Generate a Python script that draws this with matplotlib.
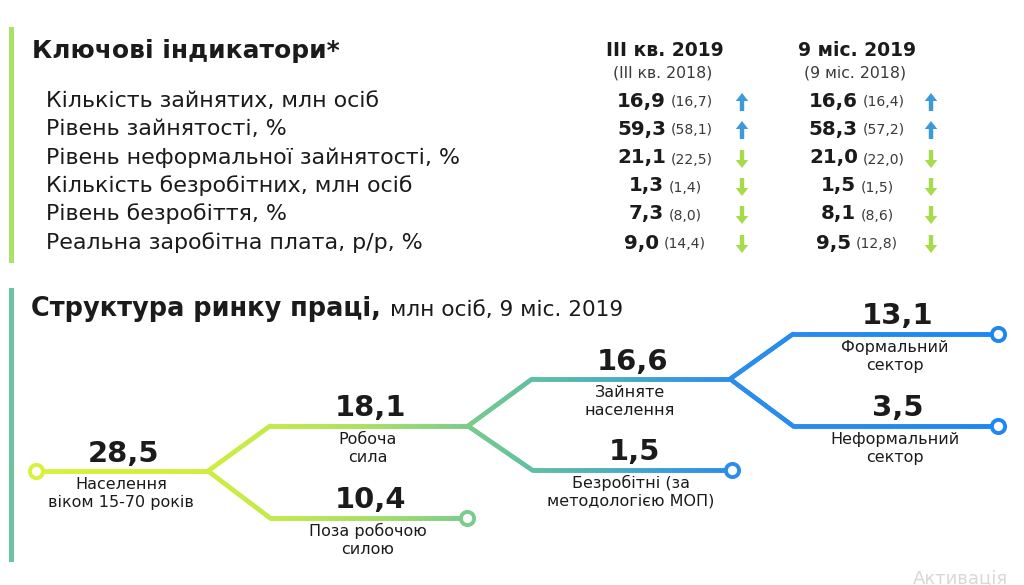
import matplotlib
matplotlib.use("Agg")
import matplotlib.pyplot as plt
import numpy as np
from matplotlib.collections import LineCollection
from matplotlib.colors import LinearSegmentedColormap
from matplotlib.patches import FancyArrow, Rectangle

FONT = ["DejaVu Sans"]
plt.rcParams['font.family'] = FONT

# ---------------- data ----------------
title_top = "Ключові індикатори*"
indicators = [
    "Кількість зайнятих, млн осіб",
    "Рівень зайнятості, %",
    "Рівень неформальної зайнятості, %",
    "Кількість безробітних, млн осіб",
    "Рівень безробіття, %",
    "Реальна заробітна плата, р/р, %",
]
col_headers = ["III кв. 2019", "9 міс. 2019"]
col_subheaders = ["(III кв. 2018)", "(9 міс. 2018)"]
q3_2019 = [16.9, 59.3, 21.1, 1.3, 7.3, 9.0]
q3_2018 = [16.7, 58.1, 22.5, 1.4, 8.0, 14.4]
m9_2019 = [16.6, 58.3, 21.0, 1.5, 8.1, 9.5]
m9_2018 = [16.4, 57.2, 22.0, 1.5, 8.6, 12.8]
trend_q3 = ["up", "up", "down", "down", "down", "down"]
trend_m9 = ["up", "up", "down", "down", "down", "down"]

title_bottom = "Структура ринку праці,"
subtitle_bottom = "млн осіб, 9 міс. 2019"
node_labels = [
    "Населення\nвіком 15-70 років",
    "Робоча\nсила",
    "Поза робочою\nсилою",
    "Зайняте\nнаселення",
    "Безробітні (за\nметодологією МОП)",
    "Формальний\nсектор",
    "Неформальний\nсектор",
]
node_values = [28.5, 18.1, 10.4, 16.6, 1.5, 13.1, 3.5]
watermark = "Активація"

def fmt(v):
    return f"{v:.1f}".replace(".", ",")

# ---------------- layout ----------------
W, H = 1024, 585
fig = plt.figure(figsize=(W / 100, H / 100), dpi=100)
ax = fig.add_axes([0, 0, 1, 1])
ax.set_xlim(0, W)
ax.set_ylim(H, 0)
ax.axis("off")
fig.patch.set_facecolor("white")
fig.canvas.draw()
renderer = fig.canvas.get_renderer()

def fit(s, width, weight="normal"):
    t = ax.text(0, 0, s, fontsize=10, fontweight=weight)
    w = t.get_window_extent(renderer).width
    t.remove()
    return 10 * width / w

TXT = "#1b1b1b"
SUB = "#3a3a3a"
BLUE_ARROW = "#3b9bd8"
GREEN_ARROW = "#a6db4c"

# section bars
ax.add_patch(Rectangle((9, 27), 5, 236, color="#a9e266", lw=0))
ax.add_patch(Rectangle((9, 288), 5, 274, color="#6cc49f", lw=0))

# top title
fs_title = fit(title_top, 306, "bold")
ax.text(32, 58, title_top, fontsize=fs_title, fontweight="bold", color=TXT,
        ha="left", va="baseline")

row_y = [100, 128, 157, 185, 213, 242]
fs_lab = fit(indicators[0], 335)
for lab, yc in zip(indicators, row_y):
    ax.text(46, yc + 7, lab, fontsize=fs_lab, color=TXT, ha="left", va="baseline")

col_x = [665, 857]
arrow_x = [742, 931]
fs_head = fit(col_headers[0], 118, "bold")
fs_sub = fit(col_subheaders[0], 100)
for cx, h, sh in zip(col_x, col_headers, col_subheaders):
    ax.text(cx, 55.5, h, fontsize=fs_head, fontweight="bold", color=TXT,
            ha="center", va="baseline")
    ax.text(cx - 2, 77, sh, fontsize=fs_sub, color=SUB, ha="center", va="baseline")

fs_val = fit("16,9", 49, "bold")
fs_par = fit("(16,7)", 42)

def pair(xc, yb, big, small, gap=5):
    t1 = ax.text(0, yb, big, fontsize=fs_val, fontweight="bold", color=TXT,
                 ha="left", va="baseline")
    t2 = ax.text(0, yb, small, fontsize=fs_par, color=SUB, ha="left", va="baseline")
    w1 = t1.get_window_extent(renderer).width
    w2 = t2.get_window_extent(renderer).width
    x0 = xc - (w1 + gap + w2) / 2
    t1.set_x(x0)
    t2.set_x(x0 + w1 + gap)

def arrow(x, yc, direction):
    L = 18
    if direction == "up":
        a = FancyArrow(x, yc + L / 2, 0, -L, width=4.4, head_width=12.5,
                       head_length=8, length_includes_head=True,
                       color=BLUE_ARROW, lw=0)
    else:
        a = FancyArrow(x, yc - L / 2, 0, L, width=4.4, head_width=12.5,
                       head_length=8, length_includes_head=True,
                       color=GREEN_ARROW, lw=0)
    ax.add_patch(a)

for i, yc in enumerate(row_y):
    pair(col_x[0], yc + 6.5, fmt(q3_2019[i]), f"({fmt(q3_2018[i])})")
    pair(col_x[1], yc + 6.5, fmt(m9_2019[i]), f"({fmt(m9_2018[i])})")
    arrow(arrow_x[0], yc + 2, trend_q3[i])
    arrow(arrow_x[1], yc + 2, trend_m9[i])

# bottom title
fs_t2 = fit(title_bottom, 350, "bold")
ax.text(31, 316, title_bottom, fontsize=fs_t2, fontweight="bold", color=TXT,
        ha="left", va="baseline")
fs_st = fit(subtitle_bottom, 233)
ax.text(390, 316, subtitle_bottom, fontsize=fs_st, color=TXT, ha="left", va="baseline")

# tree
cmap = LinearSegmentedColormap.from_list("tree", [
    (0.00, "#d8f23a"),
    (0.17, "#d0ef3e"),
    (0.25, "#c2e94a"),
    (0.35, "#a6df66"),
    (0.45, "#7acb8c"),
    (0.52, "#5fbfa3"),
    (0.60, "#4aaec0"),
    (0.67, "#3698e0"),
    (0.72, "#2c8eea"),
    (1.00, "#1f86f2"),
])
X0, X1 = 36, 1000

def xcol(x):
    return cmap((x - X0) / (X1 - X0))

paths = [
    [(36, 471), (208, 471)],
    [(208, 471), (270, 426), (468, 426)],
    [(208, 471), (270, 518), (467, 518)],
    [(468, 426), (532, 379), (730, 379)],
    [(468, 426), (532, 470), (732, 470)],
    [(730, 379), (793, 334), (998, 334)],
    [(730, 379), (793, 426), (998, 426)],
]
ring_ends = [(36, 471), (467, 518), (732, 470), (998, 334), (998, 426)]

segs, cols = [], []
for p in paths:
    for (xa, ya), (xb, yb) in zip(p[:-1], p[1:]):
        n = max(2, int(np.hypot(xb - xa, yb - ya) / 2))
        xs = np.linspace(xa, xb, n + 1)
        ys = np.linspace(ya, yb, n + 1)
        for k in range(n):
            segs.append([(xs[k], ys[k]), (xs[k + 1], ys[k + 1])])
            cols.append(xcol((xs[k] + xs[k + 1]) / 2))
lc = LineCollection(segs, colors=cols, linewidths=3.3, capstyle="round",
                    joinstyle="round", zorder=2)
ax.add_collection(lc)

for (x, y) in ring_ends:
    ax.plot([x], [y], marker="o", markersize=9.5, markerfacecolor="white",
            markeredgecolor=xcol(x), markeredgewidth=2.8, zorder=3)

fs_num = fit("28,5", 72, "bold")
fs_node = fit("віком 15-70 років", 146)
node_lines = [(36, 208, 471), (270, 468, 426), (270, 467, 518),
              (532, 730, 379), (532, 732, 470), (793, 998, 334), (793, 998, 426)]
for (xa, xb, yl), val, lab in zip(node_lines, node_values, node_labels):
    xc = (xa + xb) / 2 + 2
    ax.text(xc, yl - 9.5, fmt(val), fontsize=fs_num, fontweight="bold", color=TXT,
            ha="center", va="baseline")
    l1, l2 = lab.split("\n")
    ax.text(xc - 3, yl + 18, l1, fontsize=fs_node, color=TXT, ha="center", va="baseline")
    ax.text(xc - 3, yl + 36, l2, fontsize=fs_node, color=TXT, ha="center", va="baseline")

# faint watermark at the bottom edge
ax.text(913, 583, watermark, fontsize=13, color="#d8d8d8",
        ha="left", va="baseline")

fig.savefig("out.png", dpi=100, facecolor="white")
